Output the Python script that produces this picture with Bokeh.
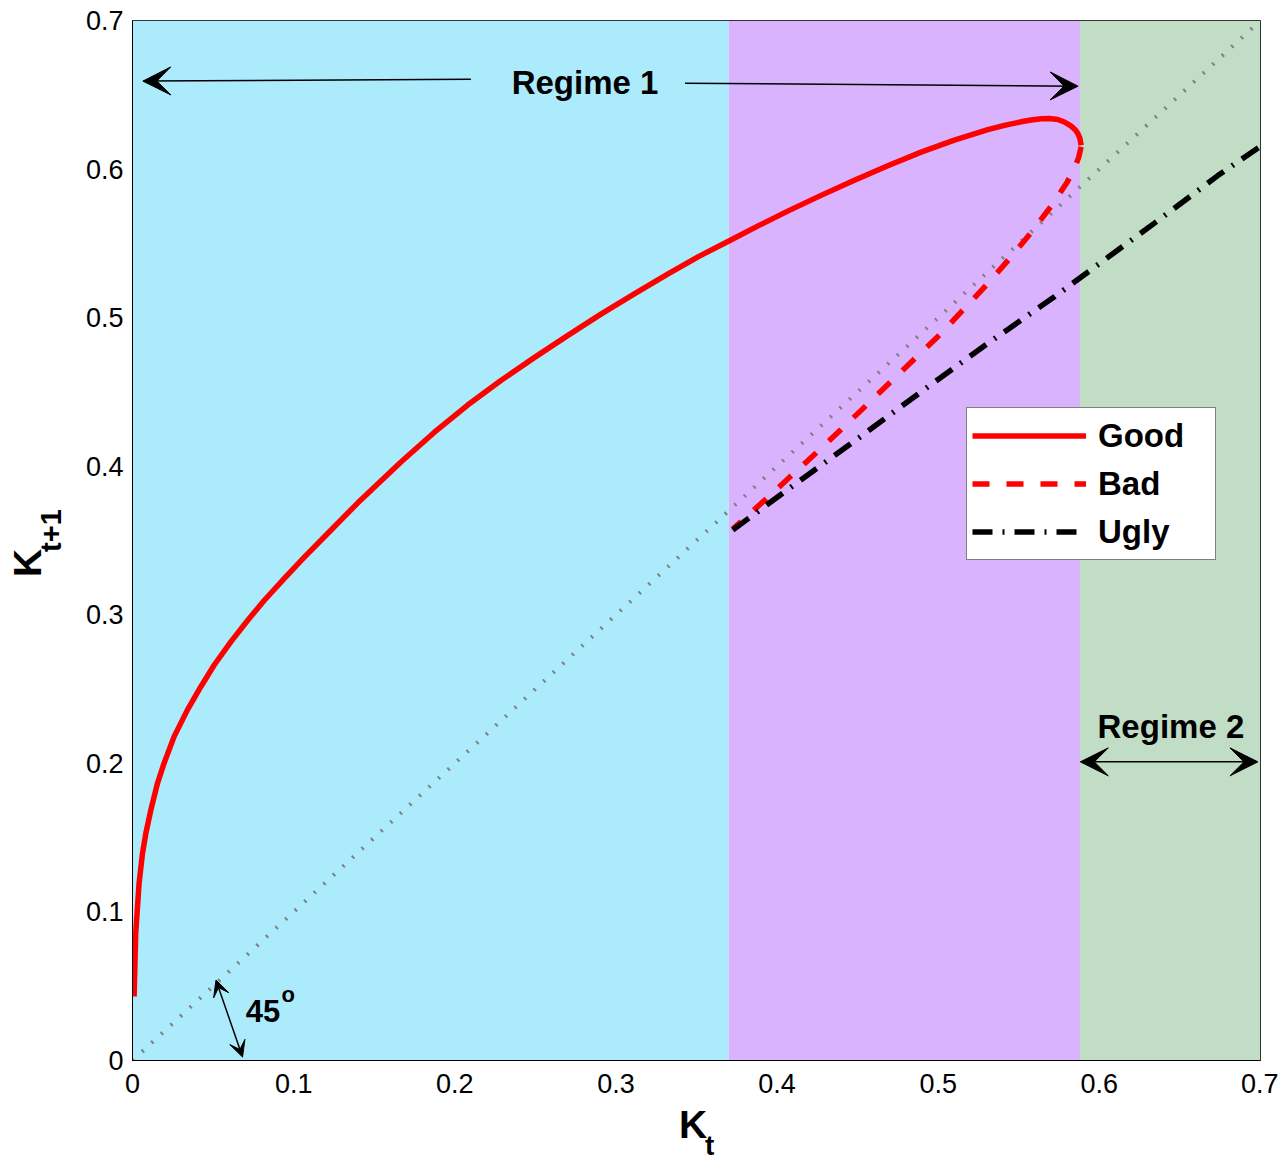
import math
from bokeh.plotting import figure
from bokeh.models import (Range1d, Arrow, VeeHead, Label, Legend, LegendItem,
                          FixedTicker)
from bokeh.embed import file_html
from bokeh.resources import INLINE

# ---------------- data ----------------
good_x = [0.0010, 0.0020, 0.0041, 0.0062, 0.0083, 0.0114, 0.0155, 0.0196,
          0.0258, 0.0341, 0.0424, 0.0507, 0.0610, 0.0714, 0.0817, 0.0941,
          0.1065, 0.1211, 0.1397, 0.1666, 0.1872, 0.2080, 0.2286, 0.2493,
          0.2700, 0.2907, 0.3114, 0.3321, 0.3512, 0.3704, 0.3885, 0.4066,
          0.4273, 0.4480, 0.4687, 0.4894, 0.5100, 0.5308, 0.5411, 0.5514,
          0.5576, 0.5639, 0.5690, 0.5742, 0.5783, 0.5825, 0.5850, 0.5866,
          0.5879, 0.5887]
good_y = [0.0431, 0.0857, 0.1194, 0.1395, 0.1530, 0.1687, 0.1866, 0.2001,
          0.2180, 0.2360, 0.2516, 0.2662, 0.2818, 0.2962, 0.3096, 0.3244,
          0.3386, 0.3547, 0.3752, 0.4028, 0.4227, 0.4412, 0.4577, 0.4731,
          0.4879, 0.5024, 0.5160, 0.5293, 0.5411, 0.5518, 0.5619, 0.5717,
          0.5823, 0.5925, 0.6022, 0.6114, 0.6195, 0.6265, 0.6294, 0.6318,
          0.6330, 0.6339, 0.6341, 0.6334, 0.6317, 0.6289, 0.6265, 0.6240,
          0.6208, 0.6161]

bad_x = [0.5887, 0.5871, 0.5845, 0.5800, 0.5721, 0.5597, 0.5452, 0.5308,
         0.5162, 0.5018, 0.4852, 0.4707, 0.4552, 0.4397, 0.4242, 0.4076,
         0.3921, 0.3725]
bad_y = [0.6150, 0.6077, 0.6004, 0.5912, 0.5781, 0.5600, 0.5409, 0.5230,
         0.5061, 0.4894, 0.4722, 0.4570, 0.4408, 0.4247, 0.4089, 0.3924,
         0.3769, 0.3577]

ugly_x = [0.3725, 0.4066, 0.4480, 0.4894, 0.5308, 0.5721, 0.5928, 0.6342,
          0.6735, 0.7000]
ugly_y = [0.3571, 0.3843, 0.4169, 0.4501, 0.4827, 0.5140, 0.5306, 0.5636,
          0.5956, 0.6154]

diag_x = [0.0, 0.7]
diag_y = [0.0, 0.7]

regime_left = [0.0, 0.370, 0.588]
regime_right = [0.370, 0.588, 0.7]
regime_colors = ["#abebfc", "#dab3fe", "#c2ddc6"]

x_ticks = [0, 0.1, 0.2, 0.3, 0.4, 0.5, 0.6, 0.7]
y_ticks = [0, 0.1, 0.2, 0.3, 0.4, 0.5, 0.6, 0.7]
tick_labels = ["0", "0.1", "0.2", "0.3", "0.4", "0.5", "0.6", "0.7"]

FONT = "Liberation Sans"

p = figure(frame_width=1128, frame_height=1040,
           min_border_left=132, min_border_right=18,
           min_border_top=20, min_border_bottom=93,
           x_range=Range1d(0, 0.7), y_range=Range1d(0, 0.7),
           output_backend="svg", toolbar_location=None,
           background_fill_color="white", border_fill_color="white")

p.grid.visible = False
p.outline_line_color = "black"
p.outline_line_width = 1

for ax, ticks, standoff in ((p.xaxis, x_ticks, 13), (p.yaxis, y_ticks, 9)):
    ax.ticker = FixedTicker(ticks=ticks)
    ax.major_label_overrides = {t: l for t, l in zip(ticks, tick_labels)}
    ax.major_tick_line_color = None
    ax.minor_tick_line_color = None
    ax.major_tick_out = 0
    ax.major_tick_in = 0
    ax.axis_line_color = "black"
    ax.axis_line_width = 1
    ax.major_label_text_font = FONT
    ax.major_label_text_font_size = "27px"
    ax.major_label_text_color = "black"
    ax.major_label_standoff = standoff

# regimes background
p.quad(left=regime_left, right=regime_right, bottom=0, top=0.7,
       fill_color=regime_colors, line_color=None)

# 45 degree line
p.line(diag_x, diag_y, line_color="#808080", line_width=4,
       line_dash="2 11")

good_r = p.line(good_x, good_y, line_color="#ff0000", line_width=5.5,
                line_join="round")
bad_r = p.line(bad_x, bad_y, line_color="#ff0000", line_width=5.5,
               line_dash="17 17")
ugly_r = p.line(ugly_x, ugly_y, line_color="black", line_width=5.5,
                line_dash="20 10 2 10")

# ---------------- arrows ----------------
def head(size):
    return VeeHead(size=size, fill_color="black", line_color="black")

p.add_layout(Arrow(x_start=0.2100, y_start=0.6605, x_end=0.0064, y_end=0.6592,
                   start=None, end=head(28), line_color="black", line_width=1.5))
p.add_layout(Arrow(x_start=0.3429, y_start=0.6578, x_end=0.5868, y_end=0.6558,
                   start=None, end=head(28), line_color="black", line_width=1.5))
p.add_layout(Arrow(x_start=0.5882, y_start=0.2010, x_end=0.6984, y_end=0.2010,
                   start=head(28), end=head(28), line_color="black",
                   line_width=1.5))
p.add_layout(Arrow(x_start=0.0518, y_start=0.0541, x_end=0.0683, y_end=0.0023,
                   start=head(16), end=head(16), line_color="black",
                   line_width=1.5))

# ---------------- text labels ----------------
def lab(x, y, text, size, align="left", angle=0.0, place="center"):
    p.add_layout(Label(x=x, y=y, text=text, text_font=FONT,
                       text_font_size=size, text_font_style="bold",
                       text_align=align, text_baseline="alphabetic",
                       text_color="black", angle=angle), place)

lab(0.2808, 0.6586, "Regime 1", "33px", align="center")
lab(0.6444, 0.2247, "Regime 2", "33px", align="center")
lab(0.0703, 0.0330, "45", "31px")
lab(0.0925, 0.0445, "o", "22px")

# axis labels (K_t and K_{t+1}); placed in side panels so they are not clipped
lab(0.3391, -0.0429, "K", "39px", place="below")
lab(0.3553, -0.0573, "t", "28px", place="below")
lab(-0.0649, 0.3254, "K", "39px", angle=math.pi / 2, place="left")
lab(-0.0505, 0.3423, "t+1", "29px", angle=math.pi / 2, place="left")

# ---------------- legend ----------------
legend = Legend(items=[LegendItem(label="Good", renderers=[good_r]),
                       LegendItem(label="Bad", renderers=[bad_r]),
                       LegendItem(label="Ugly", renderers=[ugly_r])],
                location=(834, 500), orientation="vertical",
                background_fill_color="white", background_fill_alpha=1.0,
                border_line_color="black", border_line_width=1.5,
                label_text_font=FONT, label_text_font_style="bold",
                label_text_font_size="33px", label_text_color="black",
                glyph_width=114, glyph_height=45, label_height=45,
                label_width=112, spacing=3, padding=5, label_standoff=12,
                margin=0)
p.add_layout(legend)

open("out.html", "w").write(file_html(p, INLINE))
